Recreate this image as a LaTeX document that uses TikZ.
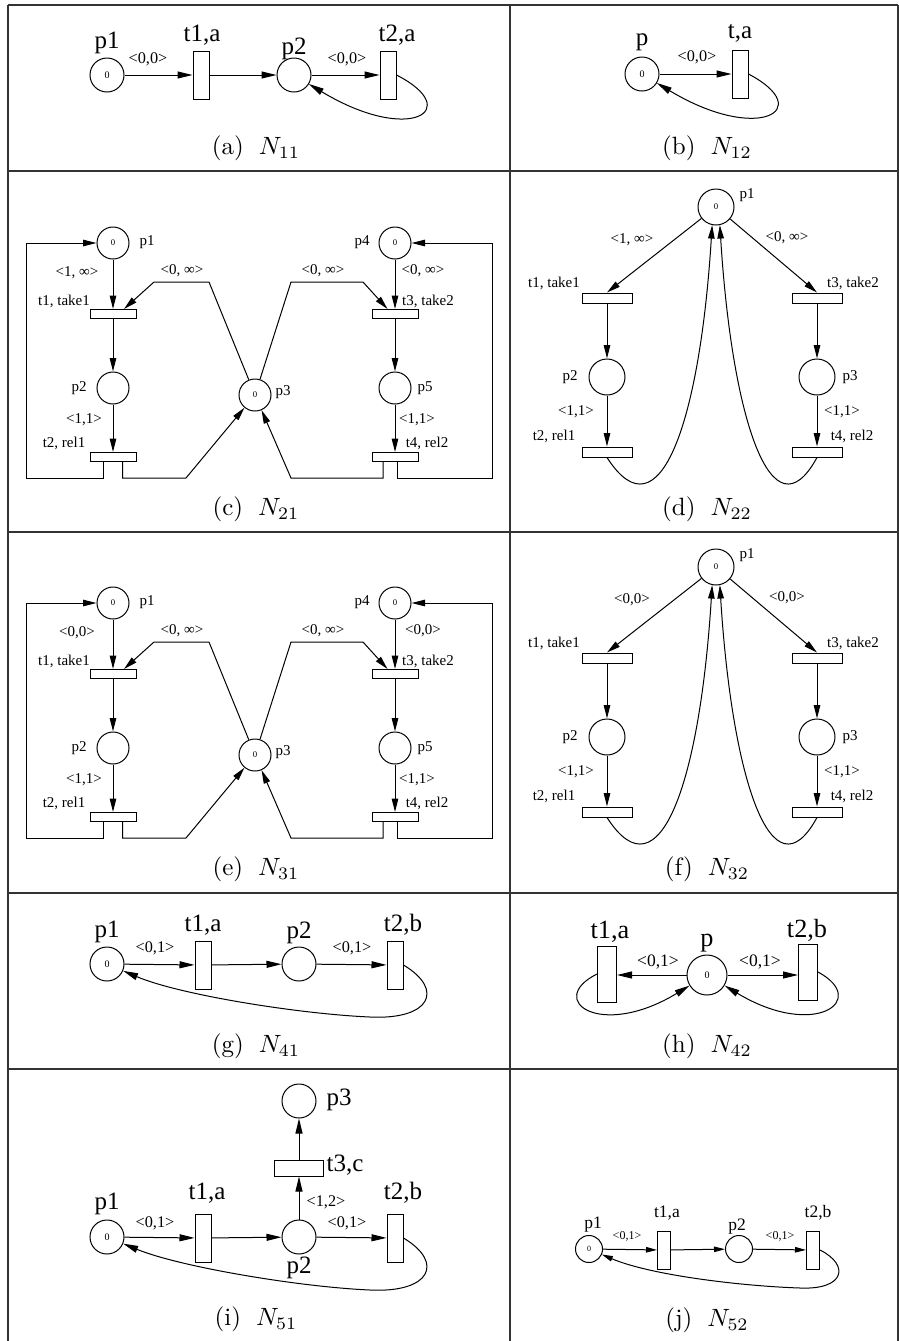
\documentclass[tikz,border=0pt]{standalone}
\usepackage{fontspec}
\newfontfamily\tmsfont{Liberation Serif}
\usepackage{tikz}
\usetikzlibrary{positioning, arrows.meta}

\begin{document}
\begin{tikzpicture}[x=0.4pt, y=-0.4pt,
    place/.style={draw, circle, inner sep=0pt, minimum size=13.6pt},
    cplace/.style={draw, circle, inner sep=0pt, minimum size=12.8pt},
    dplace/.style={draw, circle, inner sep=0pt, minimum size=14.4pt},
    hplace/.style={draw, circle, inner sep=0pt, minimum size=16pt},
    jplace/.style={draw, circle, inner sep=0pt, minimum size=10.8pt},
    vtr/.style={draw, inner sep=0pt, minimum width=6.4pt, minimum height=19.2pt},
    tallvtr/.style={draw, inner sep=0pt, minimum width=7.6pt, minimum height=22.4pt},
    smallvtr/.style={draw, inner sep=0pt, minimum width=5.2pt, minimum height=15.2pt},
    bar/.style={draw, inner sep=0pt, minimum width=18.4pt, minimum height=3.6pt},
    wbar/.style={draw, inner sep=0pt, minimum width=20pt, minimum height=4pt},
    ibar/.style={draw, inner sep=0pt, minimum width=19.6pt, minimum height=6.4pt},
    arc/.style={-{Triangle[length=6pt, width=2.8pt]}},
    carc/.style={-{Triangle[length=5.4pt, width=2.6pt]}},
    jarc/.style={-{Triangle[length=4.4pt, width=2.2pt]}},
    tok/.style={font=\tmsfont\fontsize{4}{4}\selectfont},
    ctok/.style={font=\tmsfont\fontsize{3.5}{3.5}\selectfont},
    jtok/.style={font=\tmsfont\fontsize{3.2}{3.2}\selectfont},
    lbl/.style={font=\tmsfont\fontsize{10}{10}\selectfont, inner sep=0pt},
    hlbl/.style={font=\tmsfont\fontsize{10.5}{10.5}\selectfont, inner sep=0pt},
    jlbl/.style={font=\tmsfont\fontsize{7}{7}\selectfont, inner sep=0pt},
    wt/.style={font=\tmsfont\fontsize{6.5}{6.5}\selectfont, inner sep=0pt},
    hwt/.style={font=\tmsfont\fontsize{7}{7}\selectfont, inner sep=0pt},
    jwt/.style={font=\tmsfont\fontsize{4.8}{4.8}\selectfont, inner sep=0pt},
    clbl/.style={font=\tmsfont\fontsize{6}{6}\selectfont, inner sep=0pt},
    subcap/.style={font=\fontsize{10}{12}\selectfont, inner sep=0pt},
    rule/.style={line width=0.6pt, black!80}
  ]
    \useasboundingbox (0,0) rectangle (899,1341);
    % table rules
    \draw[rule] (8,5) -- (898,5);
    \foreach \yy in {171,532,893,1069} \draw[rule] (8,\yy) -- (898,\yy);
    \foreach \xx in {8,510,898} \draw[rule] (\xx,5) -- (\xx,1341);

    % (a) N11
    \node[place, tok] (ap1) at (107,75) {0};
    \node[vtr] (at1) at (201,75) {};
    \node[place] (ap2) at (294,75) {};
    \node[vtr] (at2) at (388,75) {};
    \node[lbl] (ap1-l) at (107,43) {p1};
    \node[lbl] (at1-l) at (202,35) {t1,a};
    \node[lbl] (ap2-l) at (294,49) {p2};
    \node[lbl] (at2-l) at (397,35) {t2,a};
    \node[wt] (aw1) at (148,59) {<0,0>};
    \node[wt] (aw2) at (347,59) {<0,0>};
    \draw[arc] (ap1) -- (at1);
    \draw[arc] (at1) -- (ap2);
    \draw[arc] (ap2) -- (at2);
    \draw[arc] (at2.east) .. controls (465,110) and (410,145) .. (ap2);
    \node[subcap] (capa) at (256,148) {(a)\hspace{0.6em}$N_{11}$};

    % (b) N12
    \node[place, tok] (bp) at (642,74) {0};
    \node[vtr] (bt) at (740,74) {};
    \node[lbl] (bp-l) at (642,42) {p};
    \node[lbl] (bt-l) at (740,33) {t,a};
    \node[wt] (bw) at (697,57) {<0,0>};
    \draw[arc] (bp) -- (bt);
    \draw[arc] (bt.east) .. controls (817,110) and (758,144) .. (bp);
    \node[subcap] (capb) at (707,148) {(b)\hspace{0.6em}$N_{12}$};

    % (c) N21 and (e) N31
    \foreach \dy/\kl/\kr/\sub in {0/{<1, ∞>}/{<0, ∞>}/{(c)\hspace{0.6em}$N_{21}$},
                                 360/{<0,0>}/{<0,0>}/{(e)\hspace{0.6em}$N_{31}$}}{
    \begin{scope}[shift={(0,\dy)}]
      \node[cplace, ctok] (cp1) at (113,243) {0};
      \node[bar] (ct1) at (113,314) {};
      \node[cplace] (cp2) at (113,388) {};
      \node[bar] (ct2) at (113,457) {};
      \node[cplace, ctok] (cp3) at (255,395) {0};
      \node[cplace, ctok] (cp4) at (395,243) {0};
      \node[bar] (ct3) at (395,314) {};
      \node[cplace] (cp5) at (395,388) {};
      \node[bar] (ct4) at (395,457) {};
      \node[clbl] (cp1-l) at (147,242) {p1};
      \node[clbl] (cp2-l) at (79,388) {p2};
      \node[clbl] (cp3-l) at (283,392) {p3};
      \node[clbl] (cp4-l) at (362,242) {p4};
      \node[clbl] (cp5-l) at (425,388) {p5};
      \node[clbl] (ct1-l) at (64,301) {t1, take1};
      \node[clbl] (ct2-l) at (64,443) {t2, rel1};
      \node[clbl] (ct3-l) at (428,301) {t3, take2};
      \node[clbl] (ct4-l) at (427,443) {t4, rel2};
      \node[clbl] (cw1) at (77,273) {\kl};
      \node[clbl] (cw2) at (182,271) {<0, ∞>};
      \node[clbl] (cw3) at (323,271) {<0, ∞>};
      \node[clbl] (cw4) at (423,271) {\kr};
      \node[clbl] (cw5) at (84,420) {<1,1>};
      \node[clbl] (cw6) at (417,420) {<1,1>};
      % arcs
      \draw[carc] (cp1) -- (ct1);
      \draw[carc] (ct1) -- (cp2);
      \draw[carc] (cp2) -- (ct2);
      \draw[carc] (cp4) -- (ct3);
      \draw[carc] (ct3) -- (cp5);
      \draw[carc] (cp5) -- (ct4);
      \draw[carc] (cp3) -- (209,282) -- (154,282) -- ([xshift=4.4pt]ct1.north);
      \draw[carc] (cp3) -- (291,282) -- (363,282) -- ([xshift=-3pt]ct3.north);
      \draw[carc] ([xshift=3.8pt]ct2.south) |- (186,478) -- (cp3);
      \draw[carc] ([xshift=-4.8pt]ct4.south) |- (291,478) -- (cp3);
      \draw[carc] ([xshift=-4pt]ct2.south) |- (26,478) |- (cp1.west);
      \draw[carc] ([xshift=0.8pt]ct4.south) |- (492,478) |- (cp4.east);
      \node[subcap] (capc) at (256,509) {\sub};
    \end{scope}
    }

    % (d) N22 and (f) N32
    \foreach \dy/\kl/\kr/\sub in {0/{<1, ∞>}/{<0, ∞>}/{(d)\hspace{0.6em}$N_{22}$},
                                 360/{<0,0>}/{<0,0>}/{(f)\hspace{0.6em}$N_{32}$}}{
    \begin{scope}[shift={(0,\dy)}]
      \node[dplace, ctok] (dp1) at (716,207) {0};
      \node[wbar] (dt1) at (607,298) {};
      \node[dplace] (dp2) at (607,377) {};
      \node[wbar] (dt2) at (607,452) {};
      \node[wbar] (dt3) at (817,298) {};
      \node[dplace] (dp3) at (817,377) {};
      \node[wbar] (dt4) at (817,452) {};
      \node[clbl] (dp1-l) at (747,195) {p1};
      \node[clbl] (dp2-l) at (570,377) {p2};
      \node[clbl] (dp3-l) at (850,377) {p3};
      \node[clbl] (dt1-l) at (554,283) {t1, take1};
      \node[clbl] (dt2-l) at (554,436) {t2, rel1};
      \node[clbl] (dt3-l) at (853,283) {t3, take2};
      \node[clbl] (dt4-l) at (852,436) {t4, rel2};
      \node[clbl] (dw1) at (632,240) {\kl};
      \node[clbl] (dw2) at (787,238) {\kr};
      \node[clbl] (dw3) at (576,412) {<1,1>};
      \node[clbl] (dw4) at (842,412) {<1,1>};
      % arcs
      \draw[carc] (dp1) -- (dt1.north);
      \draw[carc] (dp1) -- (dt3.north);
      \draw[carc] (dt1) -- (dp2);
      \draw[carc] (dp2) -- (dt2);
      \draw[carc] (dt3) -- (dp3);
      \draw[carc] (dp3) -- (dt4);
      \draw[carc] (dt2.south) .. controls (660,540) and (700,420) .. (dp1.-102);
      \draw[carc] (dt4.south) .. controls (772,540) and (732,420) .. (dp1.-78);
      \node[subcap] (capd) at (707,509) {\sub};
    \end{scope}
    }

    % (g) N41
    \node[place, tok] (gp1) at (107,964) {0};
    \node[vtr] (gt1) at (203,965) {};
    \node[place] (gp2) at (299,964) {};
    \node[vtr] (gt2) at (395,965) {};
    \node[lbl] (gp1-l) at (107,932) {p1};
    \node[lbl] (gt1-l) at (203,925) {t1,a};
    \node[lbl] (gp2-l) at (299,933) {p2};
    \node[lbl] (gt2-l) at (403,925) {t2,b};
    \node[wt] (gw1) at (155,948) {<0,1>};
    \node[wt] (gw2) at (352,948) {<0,1>};
    \draw[arc] (gp1) -- (gt1);
    \draw[arc] (gt1) -- (gp2);
    \draw[arc] (gp2) -- (gt2);
    \draw[arc] (gt2.east) .. controls (445,990) and (430,1020) .. (370,1017)
                .. controls (300,1014) and (180,995) .. (gp1);
    \node[subcap] (capg) at (256,1046) {(g)\hspace{0.6em}$N_{41}$};

    % (h) N42
    \node[hplace, tok] (hp) at (707,975) {0};
    \node[tallvtr] (ht1) at (607,974) {};
    \node[tallvtr] (ht2) at (808,972) {};
    \node[hlbl] (hp-l) at (707,943) {p};
    \node[hlbl] (ht1-l) at (610,932) {t1,a};
    \node[hlbl] (ht2-l) at (807,930) {t2,b};
    \node[hwt] (hw1) at (658,962) {<0,1>};
    \node[hwt] (hw2) at (760,962) {<0,1>};
    \draw[arc] (hp) -- (hp -| ht1.east);
    \draw[arc] (hp) -- (hp -| ht2.west);
    \draw[arc] (ht1.west) .. controls (545,1000) and (600,1040) .. (hp);
    \draw[arc] (ht2.east) .. controls (870,1000) and (815,1040) .. (hp);
    \node[subcap] (caph) at (707,1046) {(h)\hspace{0.6em}$N_{42}$};

    % (i) N51
    \node[place] (ip3) at (299,1101) {};
    \node[ibar] (it3) at (299,1168) {};
    \node[place, tok] (ip1) at (107,1237) {0};
    \node[vtr] (it1) at (203,1238) {};
    \node[place] (ip2) at (299,1237) {};
    \node[vtr] (it2) at (395,1238) {};
    \node[lbl] (ip3-l) at (339,1100) {p3};
    \node[lbl] (it3-l) at (345,1165) {t3,c};
    \node[lbl] (ip1-l) at (107,1204) {p1};
    \node[lbl] (it1-l) at (207,1193) {t1,a};
    \node[lbl] (ip2-l) at (299,1268) {p2};
    \node[lbl] (it2-l) at (403,1193) {t2,b};
    \node[wt] (iw1) at (155,1223) {<0,1>};
    \node[wt] (iw2) at (347,1223) {<0,1>};
    \node[wt] (iw3) at (326,1202) {<1,2>};
    \draw[arc] (ip1) -- (it1);
    \draw[arc] (it1) -- (ip2);
    \draw[arc] (ip2) -- (it2);
    \draw[arc] (ip2) -- (it3);
    \draw[arc] (it3) -- (ip3);
    \draw[arc] (it2.east) .. controls (445,1263) and (430,1293) .. (370,1290)
                .. controls (300,1287) and (180,1267) .. (ip1);
    \node[subcap] (capi) at (256,1319) {(i)\hspace{0.6em}$N_{51}$};

    % (j) N52
    \node[jplace, jtok] (jp1) at (589,1249) {0};
    \node[smallvtr] (jt1) at (664,1250) {};
    \node[jplace] (jp2) at (739,1249) {};
    \node[smallvtr] (jt2) at (813,1250) {};
    \node[jlbl] (jp1-l) at (593,1225) {p1};
    \node[jlbl] (jt1-l) at (667,1213) {t1,a};
    \node[jlbl] (jp2-l) at (737,1227) {p2};
    \node[jlbl] (jt2-l) at (818,1213) {t2,b};
    \node[jwt] (jw1) at (627,1236) {<0,1>};
    \node[jwt] (jw2) at (780,1236) {<0,1>};
    \draw[jarc] (jp1) -- (jt1);
    \draw[jarc] (jt1) -- (jp2);
    \draw[jarc] (jp2) -- (jt2);
    \draw[jarc] (jt2.east) .. controls (850,1265) and (845,1290) .. (800,1288)
                .. controls (740,1286) and (650,1275) .. (jp1);
    \node[subcap] (capj) at (707,1320) {(j)\hspace{0.6em}$N_{52}$};
  \end{tikzpicture}
\end{document}
